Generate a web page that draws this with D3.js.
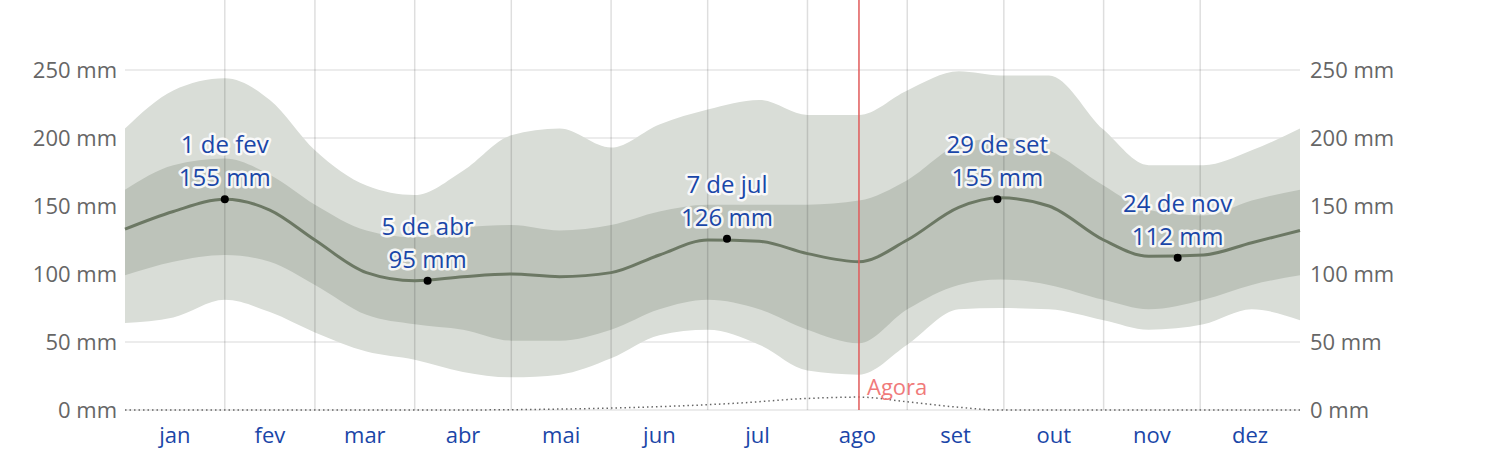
<!DOCTYPE html>
<html><head><meta charset="utf-8">
<script src="https://cdn.jsdelivr.net/npm/d3@7"></script>
<style>body{margin:0;background:#fff;font-family:"Open Sans",sans-serif}</style>
</head><body><svg id="c" width="1496" height="462"></svg>
<script>
const days = [0,15,31,45,59,75,90,105,120,135,151,166,181,197,212,228,243,259,272,287,304,318,335,350,365];
const p50 = [133,146,155,147,125,101,95,98,100,98,101,114,125,124,115,109,125,149,156,150,125,113,114,123,132];
const p75 = [162,180,185,173,151,132,127,134,136,132,136,146,151,151,151,154,169,195,200,191,165,147,143,154,162];
const p25 = [99,109,114,109,92,70,63,59,51,51,59,74,81,74,59,49,74,92,96,92,81,74,81,92,99];
const p90 = [207,235,244,228,191,165,158,176,202,207,193,210,221,228,217,217,235,249,246,246,206,180,180,191,207];
const p10 = [64,68,81,72,57,43,37,28,24,26,38,55,59,48,29,26,48,74,75,74,66,59,63,74,66];
const dotDays = [0,100,130,160,190,212,228,243,259,272,300,365];
const dotVals = [0,0,0.5,2,5,8.5,9.5,6,2,0,0,0];
const months = ["jan","fev","mar","abr","mai","jun","jul","ago","set","out","nov","dez"];
const monthStart = [0,31,59,90,120,151,181,212,243,273,304,334,365];
const yTicks = [0,50,100,150,200,250];
const marks = [{d:31,v:155,t:"1 de fev"},{d:94,v:95,t:"5 de abr"},{d:187,v:126,t:"7 de jul"},{d:271,v:155,t:"29 de set"},{d:327,v:112,t:"24 de nov"}];
const nowDay = 228;

const svg = d3.select("#c");
const x = d3.scaleLinear().domain([0,365]).range([125,1300]);
const y = d3.scaleLinear().domain([0,250]).range([410,70]);

svg.selectAll(".hg").data(yTicks).enter().append("line")
  .attr("x1",125).attr("x2",1300).attr("y1",d=>y(d)).attr("y2",d=>y(d))
  .attr("stroke","#e6e6e6").attr("stroke-width",1.5);

const area = (lo,hi) => d3.area().curve(d3.curveMonotoneX)
  .x((d,i)=>x(days[i])).y0((d,i)=>y(lo[i])).y1((d,i)=>y(hi[i]));
svg.append("path").attr("d",area(p10,p90)(days)).attr("fill","#d9ddd7");
svg.append("path").attr("d",area(p25,p75)(days)).attr("fill","#bdc3ba");

svg.selectAll(".vg").data(monthStart.slice(1,12)).enter().append("line")
  .attr("x1",d=>x(d)).attr("x2",d=>x(d)).attr("y1",0).attr("y2",410)
  .attr("stroke","#000").attr("stroke-opacity",0.13).attr("stroke-width",1.5);

svg.append("path").attr("d",d3.line().curve(d3.curveMonotoneX).x((d,i)=>x(days[i])).y((d,i)=>y(p50[i]))(days))
  .attr("fill","none").attr("stroke","#6c7864").attr("stroke-width",3);

svg.append("path").attr("d",d3.line().curve(d3.curveMonotoneX).x((d,i)=>x(dotDays[i])).y((d,i)=>y(dotVals[i]))(dotDays))
  .attr("fill","none").attr("stroke","#666").attr("stroke-width",1.5).attr("stroke-dasharray","1.5,3");

svg.append("line").attr("x1",x(nowDay)).attr("x2",x(nowDay)).attr("y1",0).attr("y2",410)
  .attr("stroke","#e05a5a").attr("stroke-width",1.5);
svg.append("text").attr("x",x(nowDay)+8).attr("y",395).attr("fill","#f07a7a")
  .attr("font-size",22).text("Agora");

const axL = d3.axisLeft(y).tickValues(yTicks).tickFormat(d=>d+" mm").tickSize(0).tickPadding(8);
const gl = svg.append("g").attr("transform","translate(125,0)").call(axL);
const axR = d3.axisRight(y).tickValues(yTicks).tickFormat(d=>d+" mm").tickSize(0).tickPadding(10);
const gr = svg.append("g").attr("transform","translate(1300,0)").call(axR);
[gl,gr].forEach(g=>{g.select(".domain").remove();
  g.selectAll("text").attr("font-size",22).attr("fill","#666").attr("font-family","Open Sans, sans-serif");});

svg.selectAll(".ml").data(months).enter().append("text")
  .attr("x",(d,i)=>x((monthStart[i]+monthStart[i+1])/2)).attr("y",443)
  .attr("text-anchor","middle").attr("font-size",22).attr("fill","#1a46a8").text(d=>d);

const mg = svg.selectAll(".mk").data(marks).enter().append("g");
mg.append("circle").attr("cx",d=>x(d.d)).attr("cy",d=>y(d.v)).attr("r",4).attr("fill","#000");
[["t",-28],["v",1]].forEach(([k,dy])=>{
  const txt = d=> k==="t"?d.t:d.v+" mm";
  mg.append("text").attr("x",d=>x(d.d)).attr("y",d=>y(d.v)-14+dy-(k==="t"?4:0))
    .attr("text-anchor","middle").attr("font-size",24).attr("stroke","#fff").attr("stroke-width",5)
    .attr("stroke-linejoin","round").attr("fill","#fff").attr("opacity",0.85).text(txt);
  mg.append("text").attr("x",d=>x(d.d)).attr("y",d=>y(d.v)-14+dy-(k==="t"?4:0))
    .attr("text-anchor","middle").attr("font-size",24).attr("fill","#1a46a8").text(txt);
});
</script></body></html>
